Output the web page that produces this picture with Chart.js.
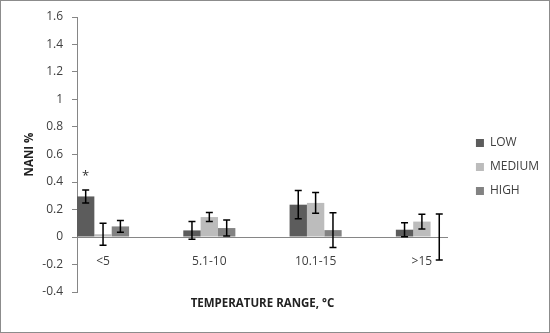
<!DOCTYPE html>
<html>
<head>
<meta charset="utf-8">
<script src="https://cdn.jsdelivr.net/npm/chart.js@4"></script>
<style>
  html, body { margin: 0; padding: 0; background: #fff; }
  #wrap { width: 550px; height: 333px; box-sizing: border-box; border: 1px solid #8c8c8c; }
</style>
</head>
<body>
<div id="wrap"><canvas id="chart"></canvas></div>
<script>
// categories and series
const categories = ['<5', '5.1-10', '10.1-15', '>15'];
const seriesNames = ['LOW', 'MEDIUM', 'HIGH'];
const lowValues = [0.295, 0.048, 0.235, 0.053];
const lowErrors = [0.047, 0.064, 0.103, 0.051];
const mediumValues = [0.02, 0.145, 0.248, 0.112];
const mediumErrors = [0.08, 0.033, 0.075, 0.054];
const highValues = [0.077, 0.065, 0.05, 0.0];
const highErrors = [0.043, 0.058, 0.126, 0.168];
const yTicks = [-0.4, -0.2, 0, 0.2, 0.4, 0.6, 0.8, 1, 1.2, 1.4, 1.6];
const markedBar = { series: 0, index: 0, text: '*' };

const FONT = "'Open Sans', sans-serif";
const TEXT = '#404040';
const AXIS = '#868686';

function toPoints(values) {
  return values.map((v, i) => ({ x: i, y: v }));
}

const errorBars = {
  id: 'errorBars',
  afterDatasetsDraw(chart) {
    const ctx = chart.ctx;
    const y = chart.scales.y;
    ctx.save();
    ctx.strokeStyle = '#000';
    ctx.lineWidth = 1.5;
    chart.data.datasets.forEach((ds, di) => {
      const meta = chart.getDatasetMeta(di);
      meta.data.forEach((bar, i) => {
        const v = ds.data[i].y, e = ds.errors[i];
        const top = y.getPixelForValue(v + e);
        const bot = y.getPixelForValue(v - e);
        ctx.beginPath();
        ctx.moveTo(bar.x, top); ctx.lineTo(bar.x, bot);
        ctx.moveTo(bar.x - 3.5, top); ctx.lineTo(bar.x + 3.5, top);
        ctx.moveTo(bar.x - 3.5, bot); ctx.lineTo(bar.x + 3.5, bot);
        ctx.stroke();
      });
    });
    // significance mark
    const ds = chart.data.datasets[markedBar.series];
    const bar = chart.getDatasetMeta(markedBar.series).data[markedBar.index];
    const top = y.getPixelForValue(ds.data[markedBar.index].y + ds.errors[markedBar.index]);
    ctx.fillStyle = '#333';
    ctx.font = '13px ' + FONT;
    ctx.textAlign = 'center';
    ctx.textBaseline = 'middle';
    ctx.fillText(markedBar.text, bar.x, top - 14);
    ctx.restore();
  }
};

new Chart(document.getElementById('chart'), {
  type: 'bar',
  data: {
    datasets: [
      { label: seriesNames[0], data: toPoints(lowValues), errors: lowErrors, backgroundColor: '#5c5c5c' },
      { label: seriesNames[1], data: toPoints(mediumValues), errors: mediumErrors, backgroundColor: '#bcbcbc' },
      { label: seriesNames[2], data: toPoints(highValues), errors: highErrors, backgroundColor: '#828282' }
    ]
  },
  plugins: [errorBars],
  options: {
    responsive: true,
    maintainAspectRatio: false,
    animation: false,
    categoryPercentage: 0.49,
    barPercentage: 1,
    layout: { padding: { top: 1, right: 0, bottom: 0, left: 0 } },
    plugins: {
      tooltip: { enabled: false },
      legend: {
        position: 'right',
        labels: {
          boxWidth: 8, boxHeight: 8, padding: 12,
          color: TEXT,
          font: { family: FONT, size: 12 }
        }
      }
    },
    scales: {
      x: {
        type: 'linear',
        position: { y: 0 },
        offset: false,
        min: -0.245,
        max: 3.245,
        grid: { display: false },
        border: { display: true, color: AXIS, width: 1 },
        ticks: {
          stepSize: 1,
          includeBounds: false,
          autoSkip: false,
          maxRotation: 0,
          padding: 9,
          color: TEXT,
          font: { family: FONT, size: 12 },
          callback: v => Number.isInteger(v) ? categories[v] : ''
        }
      },
      xTitle: {
        type: 'category',
        labels: categories,
        position: 'bottom',
        grid: { display: false },
        border: { display: false },
        ticks: { display: false },
        title: {
          display: true,
          text: 'TEMPERATURE RANGE, °C',
          color: '#222',
          font: { family: FONT, size: 11.5, weight: 'bold' },
          padding: { top: 0, bottom: 21 }
        },
        afterFit: s => { s.height = 40; }
      },
      y: {
        min: -0.4,
        max: 1.6,
        afterBuildTicks: s => { s.ticks = yTicks.map(v => ({ value: v })); },
        grid: { drawOnChartArea: false, drawTicks: true, tickLength: 5, color: AXIS },
        border: { display: true, color: AXIS, width: 1 },
        ticks: {
          padding: 9,
          color: TEXT,
          font: { family: FONT, size: 12 },
          callback: v => String(+v.toFixed(1))
        },
        title: {
          display: true,
          text: 'NANI %',
          color: '#222',
          font: { family: FONT, size: 11.5, weight: 'bold' },
          padding: { top: 22, bottom: 0 }
        },
        afterFit: s => { s.width = 76; s.paddingTop = 16; }
      },
      ySpare: {
        position: 'right',
        grid: { display: false },
        border: { display: false },
        ticks: { display: false },
        afterFit: s => { s.width = 16; }
      }
    }
  }
});
</script>
</body>
</html>
